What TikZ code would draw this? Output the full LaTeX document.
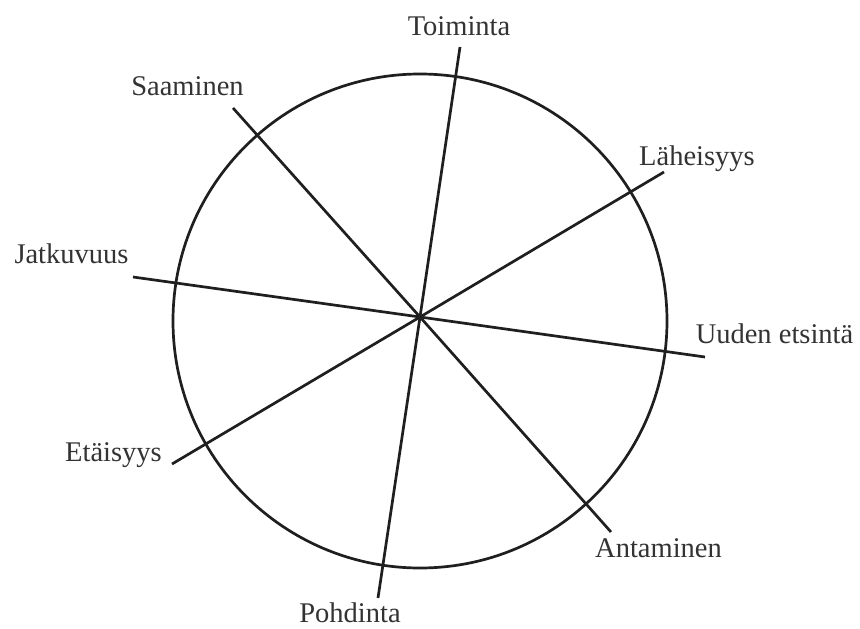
\documentclass[tikz,border=0pt]{standalone}
\usepackage{fontspec}
\setmainfont{Liberation Serif}
\begin{document}
\begin{tikzpicture}[x=1pt,y=-1pt,
  spoke/.style={line width=2.7pt,draw=black!88},
  lbl/.style={anchor=base,inner sep=0pt,text=black!80,font=\fontsize{28.5}{33}\selectfont}]
\useasboundingbox (0,0) rectangle (860,629);
\fill[white] (0,0) rectangle (860,629);
\draw[spoke] (420,321) circle[radius=247];
\coordinate (c) at (420,317);
\coordinate (t) at (460,47);
\coordinate (p) at (378,598);
\coordinate (s) at (233,108);
\coordinate (a) at (611,532);
\coordinate (l) at (664,172);
\coordinate (e) at (172,464);
\coordinate (j) at (133,277);
\coordinate (u) at (705,357);
\draw[spoke] (t) -- (c) -- (p);
\draw[spoke] (s) -- (c) -- (a);
\draw[spoke] (l) -- (c) -- (e);
\draw[spoke] (j) -- (c) -- (u);
\node[lbl] (tl) at (459,35) {Toiminta};
\node[lbl] (sl) at (187.5,95) {Saaminen};
\node[lbl] (ll) at (697,165) {Läheisyys};
\node[lbl] (ul) at (774.5,343) {Uuden etsintä};
\node[lbl] (jl) at (71.5,263) {Jatkuvuus};
\node[lbl] (el) at (113.5,461) {Etäisyys};
\node[lbl] (pl) at (350,622) {Pohdinta};
\node[lbl] (al) at (658.5,557) {Antaminen};
\end{tikzpicture}
\end{document}
